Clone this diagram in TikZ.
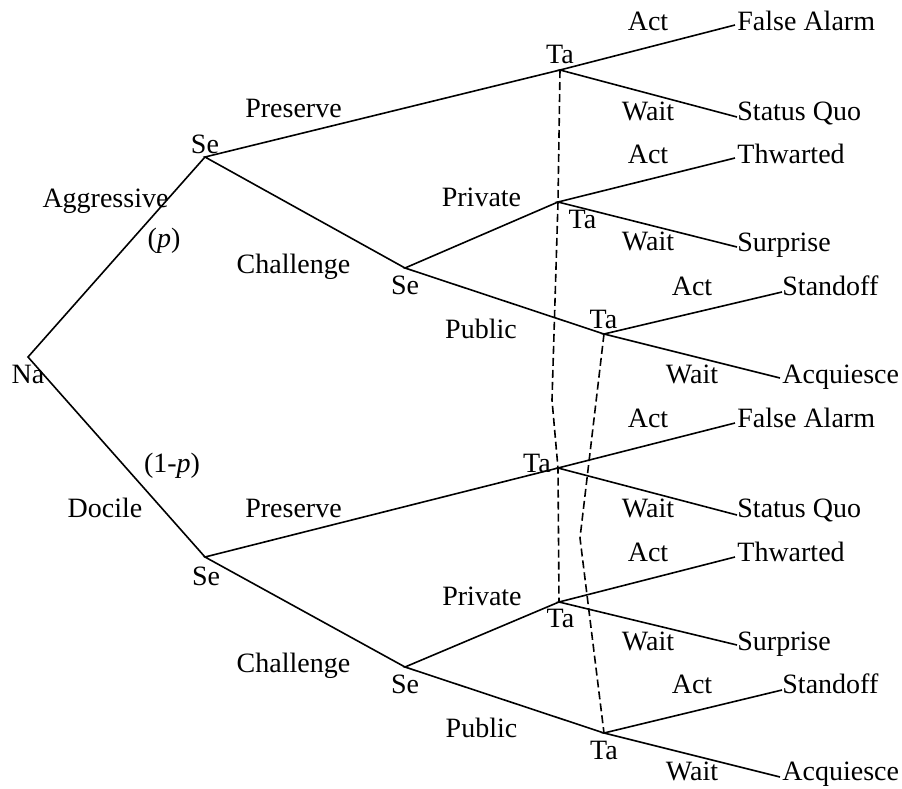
\documentclass[tikz,border=0pt]{standalone}
\usepackage{fontspec}
\setmainfont{Liberation Serif}
\begin{document}
\begin{tikzpicture}[x=0.5pt,y=-0.5pt,
  edge/.style={line width=0.8pt},
  infoset/.style={line width=0.8pt, dash pattern=on 4pt off 2pt},
  lbl/.style={anchor=base, inner sep=0pt, font=\fontsize{14}{16}\selectfont},
  term/.style={lbl, anchor=base west}]
\path[use as bounding box] (0,0) rectangle (902,789);
% decision points
\coordinate (na) at (28,357);
\coordinate (se1) at (205,157);
\coordinate (se2) at (405,268);
\coordinate (ta1) at (560,70);
\coordinate (ta2) at (558,202);
\coordinate (ta3) at (604,334);
\coordinate (se3) at (205,557);
\coordinate (se4) at (405,667);
\coordinate (ta4) at (558,468);
\coordinate (ta5) at (559,602);
\coordinate (ta6) at (604,733);
% terminal line ends
\coordinate (fa1) at (735,25);
\coordinate (sq1) at (737,117);
\coordinate (th1) at (735,158);
\coordinate (su1) at (737,247);
\coordinate (so1) at (782,292);
\coordinate (aq1) at (780,378);
\coordinate (fa2) at (735,423);
\coordinate (sq2) at (737,515);
\coordinate (th2) at (735,557);
\coordinate (su2) at (737,645);
\coordinate (so2) at (782,690);
\coordinate (aq2) at (780,777);
\coordinate (bend1) at (552,400);
\coordinate (bend2) at (580,538);
% edges
\draw[edge] (se1) -- (na) -- (se3);
\draw[edge] (ta1) -- (se1) -- (se2);
\draw[edge] (ta2) -- (se2) -- (ta3);
\draw[edge] (ta4) -- (se3) -- (se4);
\draw[edge] (ta5) -- (se4) -- (ta6);
\draw[edge] (fa1) -- (ta1) -- (sq1);
\draw[edge] (th1) -- (ta2) -- (su1);
\draw[edge] (so1) -- (ta3) -- (aq1);
\draw[edge] (fa2) -- (ta4) -- (sq2);
\draw[edge] (th2) -- (ta5) -- (su2);
\draw[edge] (so2) -- (ta6) -- (aq2);
% information sets
\draw[infoset] (ta1) -- (ta2) -- (bend1) -- (ta4) -- (ta5);
\draw[infoset] (ta3) -- (bend2) -- (ta6);
% player labels
\node[lbl] (lna) at (28,383) {Na};
\node[lbl] (lse1) at (205,153) {Se};
\node[lbl] (lse2) at (405,294) {Se};
\node[lbl] (lse3) at (206,585) {Se};
\node[lbl] (lse4) at (405,693) {Se};
\node[lbl] (lta1) at (560,63) {Ta};
\node[lbl] (lta2) at (582.5,228) {Ta};
\node[lbl] (lta3) at (603.5,328) {Ta};
\node[lbl] (lta4) at (537,472) {Ta};
\node[lbl] (lta5) at (560.5,627) {Ta};
\node[lbl] (lta6) at (604,759) {Ta};
% move labels
\node[lbl] (mag) at (105.5,207) {Aggressive};
\node[lbl] (mp) at (164,247) {(\textit{p})};
\node[lbl] (mdo) at (105,517) {Docile};
\node[lbl] (m1p) at (172,472) {(1-\textit{p})};
\node[lbl] (mpr1) at (293.5,117) {Preserve};
\node[lbl] (mpr2) at (293.5,517) {Preserve};
\node[lbl] (mch1) at (293.5,273) {Challenge};
\node[lbl] (mch2) at (293.5,672) {Challenge};
\node[lbl] (mpv1) at (481.5,206) {Private};
\node[lbl] (mpv2) at (482,605) {Private};
\node[lbl] (mpu1) at (481,338) {Public};
\node[lbl] (mpu2) at (481.5,737) {Public};
\node[lbl] (act1) at (648,30) {Act};
\node[lbl] (act2) at (648,163) {Act};
\node[lbl] (act3) at (692,295) {Act};
\node[lbl] (act4) at (648,427) {Act};
\node[lbl] (act5) at (648,561) {Act};
\node[lbl] (act6) at (692,693) {Act};
\node[lbl] (wt1) at (648,120) {Wait};
\node[lbl] (wt2) at (648,250) {Wait};
\node[lbl] (wt3) at (692,383) {Wait};
\node[lbl] (wt4) at (648,517) {Wait};
\node[lbl] (wt5) at (648,650) {Wait};
\node[lbl] (wt6) at (692,780) {Wait};
% outcomes
\node[term] (ofa1) at (737,30) {False Alarm};
\node[term] (osq1) at (737,120) {Status Quo};
\node[term] (oth1) at (737,163) {Thwarted};
\node[term] (osu1) at (737,251) {Surprise};
\node[term] (oso1) at (782,295) {Standoff};
\node[term] (oaq1) at (782,383) {Acquiesce};
\node[term] (ofa2) at (737,427) {False Alarm};
\node[term] (osq2) at (737,517) {Status Quo};
\node[term] (oth2) at (737,561) {Thwarted};
\node[term] (osu2) at (737,650) {Surprise};
\node[term] (oso2) at (782,693) {Standoff};
\node[term] (oaq2) at (782,780) {Acquiesce};
\end{tikzpicture}
\end{document}
